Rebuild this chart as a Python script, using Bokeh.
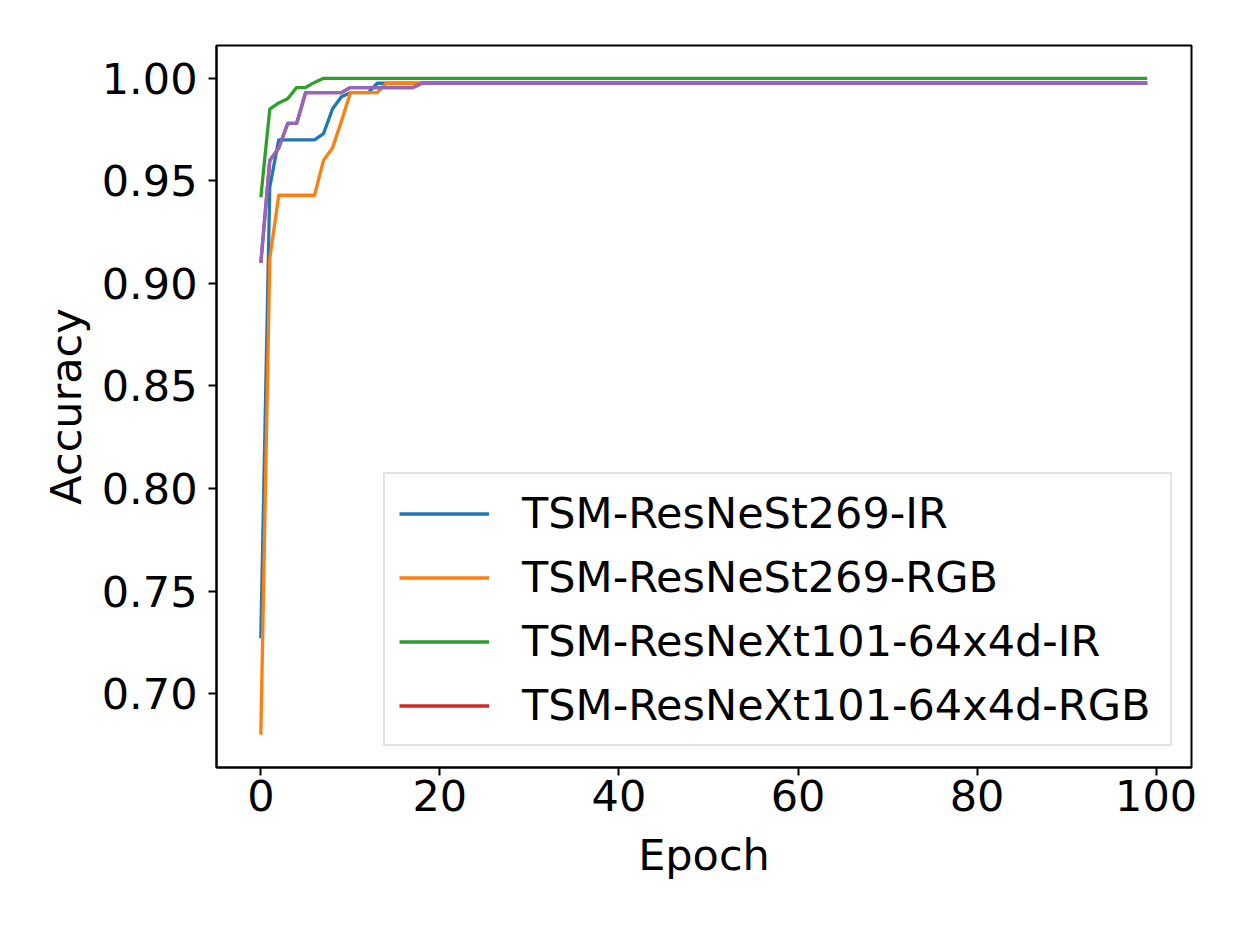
from bokeh.plotting import figure
from bokeh.models import Range1d, FixedTicker, NumeralTickFormatter, Legend, LegendItem
from bokeh.embed import file_html
from bokeh.resources import INLINE

# ---- data ----
epochs = list(range(100))

resnest_ir = [0.727, 0.947, 0.970, 0.970, 0.970, 0.970, 0.970, 0.973, 0.985, 0.991,
              0.993, 0.993, 0.993, 0.9976]
resnest_ir = resnest_ir + [0.9976] * (100 - len(resnest_ir))

resnest_rgb = [0.680, 0.912, 0.943, 0.943, 0.943, 0.943, 0.943, 0.960, 0.966, 0.979,
               0.993, 0.993, 0.993, 0.993, 0.9976]
resnest_rgb = resnest_rgb + [0.9976] * (100 - len(resnest_rgb))

resnext_ir = [0.942, 0.985, 0.988, 0.990, 0.9955, 0.9955, 0.998, 1.000]
resnext_ir = resnext_ir + [1.000] * (100 - len(resnext_ir))

resnext_rgb = [0.910, 0.960, 0.966, 0.978, 0.978, 0.993, 0.993, 0.993, 0.993, 0.993,
               0.9955, 0.9955, 0.9955, 0.9955, 0.9955, 0.9955, 0.9955, 0.9955, 0.9976]
resnext_rgb = resnext_rgb + [0.9976] * (100 - len(resnext_rgb))

extra_run = list(resnext_rgb)  # purple curve, drawn on top of the red one

labels = ["TSM-ResNeSt269-IR", "TSM-ResNeSt269-RGB",
          "TSM-ResNeXt101-64x4d-IR", "TSM-ResNeXt101-64x4d-RGB"]
colors = ["#1f77b4", "#ff7f0e", "#2ca02c", "#d62728", "#9467bd"]
x_ticks = [0, 20, 40, 60, 80, 100]
y_ticks = [0.70, 0.75, 0.80, 0.85, 0.90, 0.95, 1.00]

series = [resnest_ir, resnest_rgb, resnext_ir, resnext_rgb, extra_run]

# ---- ranges with 5% margins ----
all_y = [v for s in series for v in s]
ymin, ymax = min(all_y), max(all_y)
xmin, xmax = min(epochs), max(epochs)
xpad = 0.05 * (xmax - xmin)
ypad = 0.05 * (ymax - ymin)

FONT = "DejaVu Sans"
FS = "43px"

p = figure(width=1237, height=926, output_backend="svg", toolbar_location=None,
           x_range=Range1d(xmin - xpad, xmax + xpad),
           y_range=Range1d(ymin - ypad, ymax + ypad),
           min_border_left=216, min_border_right=46,
           min_border_top=45, min_border_bottom=159)
p.background_fill_color = "white"
p.border_fill_color = "white"
p.grid.visible = False
p.outline_line_color = "black"
p.outline_line_width = 2

renderers = []
for s, c in zip(series, colors):
    r = p.line(epochs, s, line_color=c, line_width=3.3, line_join="round")
    renderers.append(r)

for ax in (p.xaxis[0], p.yaxis[0]):
    ax.axis_line_width = 2
    ax.major_tick_line_width = 2
    ax.major_tick_out = 8
    ax.major_tick_in = 0
    ax.minor_tick_line_color = None
    ax.major_label_text_font = FONT
    ax.major_label_text_font_size = FS
    ax.major_label_text_color = "black"
    ax.axis_label_text_font = FONT
    ax.axis_label_text_font_size = FS
    ax.axis_label_text_font_style = "normal"
    ax.axis_label_text_color = "black"

p.xaxis.ticker = FixedTicker(ticks=x_ticks)
p.yaxis.ticker = FixedTicker(ticks=y_ticks)
p.yaxis.formatter = NumeralTickFormatter(format="0.00")
p.xaxis.axis_label = "Epoch"
p.yaxis.axis_label = "Accuracy"
p.xaxis.major_label_standoff = 4
p.yaxis.major_label_standoff = 11
p.xaxis.axis_label_standoff = 16
p.yaxis.axis_label_standoff = 8

items = [LegendItem(label=l, renderers=[r]) for l, r in zip(labels, renderers[:4])]
legend = Legend(items=items, location=(167, 21), margin=0,
                label_text_font=FONT, label_text_font_size=FS,
                label_text_color="black",
                glyph_width=90, glyph_height=49, label_height=49,
                label_width=634,
                label_standoff=33, spacing=14, padding=14,
                border_line_color="#c8c8c8", border_line_width=2,
                background_fill_color="white", background_fill_alpha=0.8)
p.add_layout(legend, "center")

open("out.html", "w").write(file_html(p, INLINE))
